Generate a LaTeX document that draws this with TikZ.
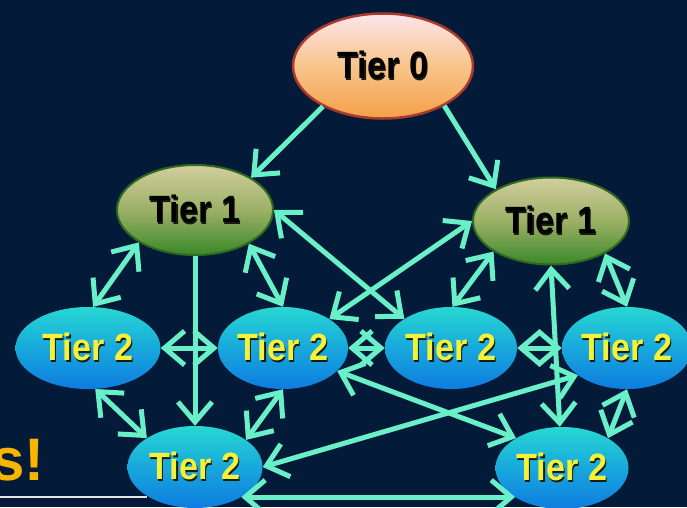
\documentclass[tikz,border=0pt]{standalone}
\usepackage{fontspec}
\setmainfont{Liberation Sans}
\newfontfamily\tierfont[FakeStretch=0.9]{Liberation Sans}
\usetikzlibrary{shapes.geometric,arrows.meta,shadings}
\definecolor{bgc}{HTML}{031B39}
\definecolor{edgec}{HTML}{6AF0C8}
\definecolor{tzborder}{HTML}{A83A2C}
\definecolor{tzt}{HTML}{FCE6EC}
\definecolor{tzm}{HTML}{F8C48A}
\definecolor{tzb}{HTML}{F4A048}
\definecolor{tot}{HTML}{D2CE9E}
\definecolor{tom}{HTML}{9CB066}
\definecolor{tob}{HTML}{3A8828}
\definecolor{toborder}{HTML}{2E6A1E}
\definecolor{ttt}{HTML}{27D8D2}
\definecolor{ttm}{HTML}{18A8DC}
\definecolor{ttb}{HTML}{0E7CE0}
\definecolor{ttxt}{HTML}{F2F23C}
\definecolor{shadowc}{HTML}{1A1A10}
\definecolor{titlec}{HTML}{F7B500}
\definecolor{rulec}{HTML}{E6E6E6}
\newcommand{\shtxt}[1]{\rlap{\kern1.3pt\raisebox{-1.3pt}{\textcolor{shadowc}{#1}}}#1}
\tikzset{
  tierbase/.style={ellipse, inner sep=0pt, font=\tierfont\bfseries\fontsize{38}{38}\selectfont},
  tzero/.style={tierbase, minimum width=180pt, minimum height=105pt, top color=tzt, bottom color=tzb, middle color=tzm, draw=tzborder, line width=2.5pt, text=black},
  tone/.style={tierbase, minimum width=156pt, minimum height=90pt, top color=tot, bottom color=tob, middle color=tom, draw=toborder, line width=2pt, text=black},
  ttwo/.style={tierbase, minimum width=132pt, minimum height=82pt, top color=ttt, bottom color=ttb, middle color=ttm, text=ttxt},
  link/.style={draw=edgec, line width=5pt, -{Straight Barb[length=20pt,width=34pt,line width=5pt]}},
  dlink/.style={draw=edgec, line width=5pt, {Straight Barb[length=20pt,width=34pt,line width=5pt]}-{Straight Barb[length=20pt,width=34pt,line width=5pt]}}
}
\begin{document}
\begin{tikzpicture}[x=1pt,y=-1pt]
\fill[bgc] (0,0) rectangle (687,507);
\useasboundingbox (0,0) rectangle (687,507);
\clip (0,0) rectangle (687,507);
% title fragment and rule
\draw[rulec, line width=2pt] (0,497) -- (147,497);
\node[anchor=base east, inner sep=0pt, text=titlec, font=\bfseries\fontsize{60}{60}\selectfont] (ttl) at (45,480) {s!};
% nodes
\node[tzero] (t0) at (383,66) {\shtxt{Tier 0}};
\node[tone] (t1l) at (195,210) {\shtxt{Tier 1}};
\node[tone, minimum height=87pt] (t1r) at (551,221) {\shtxt{Tier 1}};
\node[ttwo, minimum width=145pt] (a) at (88,348) {\shtxt{Tier 2}};
\node[ttwo, minimum width=130pt] (b) at (283,348) {\shtxt{Tier 2}};
\node[ttwo, minimum width=132pt] (c) at (451,348) {\shtxt{Tier 2}};
\node[ttwo, minimum width=130pt] (d) at (627,348) {\shtxt{Tier 2}};
\node[ttwo, minimum width=135pt] (e) at (195,467) {\shtxt{Tier 2}};
\node[ttwo, minimum width=133pt] (f) at (562,468) {\shtxt{Tier 2}};
% edges
\draw[link] (t0.214) -- (t1l.30);
\draw[link] (t0.327) -- (t1r.150);
\draw[dlink] (t1l.210) -- (a.83);
\draw[link] (t1l.south) -- (t1l.south |- e.north);
\draw[dlink] (t1l.328) -- (b.90);
\draw[dlink] (t1l.0) -- (c.148);
\draw[dlink] (t1r.180) -- (b.32);
\draw[dlink] (t1r.208) -- (c.88);
\draw[dlink] (t1r.270) -- (f.93);
\draw[dlink] (t1r.329) -- (d.90);
\draw[dlink] (a.east) -- (b.west);
\draw[dlink] (b.east) -- (c.west);
\draw[dlink] (c.east) -- (d.west);
\draw[dlink] (a.280) -- (e.149);
\draw[dlink] (b.270) -- (e.28);
\draw[dlink] (b.337) -- (f.147);
\draw[dlink] (d.209) -- (e.0);
\draw[dlink] (d.270) -- (f.33);
\draw[dlink] (e.327) -- (f.212 |- e.327);
\end{tikzpicture}
\end{document}
